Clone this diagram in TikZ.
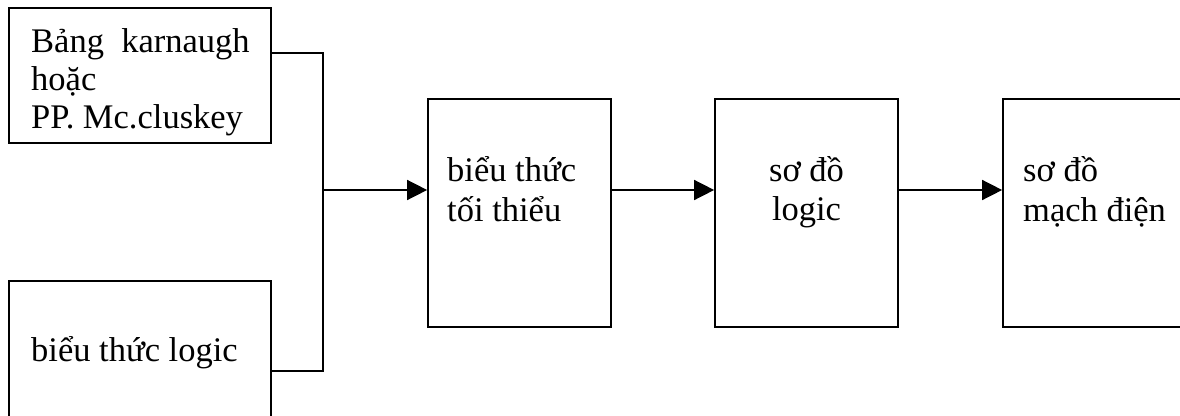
\documentclass[tikz,border=0pt]{standalone}
\usepackage{fontspec}
\setmainfont{Liberation Serif}
\usetikzlibrary{arrows.meta}
\begin{document}
\begin{tikzpicture}[x=1pt,y=-1pt,
  box/.style={draw,line width=1.7pt,inner sep=0pt},
  txt/.style={inner sep=0pt,font=\fontsize{34.5}{40}\selectfont},
  conn/.style={line width=1.5pt},
  arr/.style={line width=1.5pt,-{Triangle[length=20pt,width=20pt]}}]
\useasboundingbox (0,0) rectangle (1180,415);
\clip (0,0) rectangle (1180,415);
% boxes
\node[box,minimum width=262pt,minimum height=135pt] (b1) at (140,75.5) {};
\node[box,minimum width=262pt,minimum height=139pt] (b2) at (140,350.5) {};
\node[box,minimum width=183pt,minimum height=228pt] (b3) at (519.5,213) {};
\node[box,minimum width=183pt,minimum height=228pt] (b4) at (806.5,213) {};
\node[box,minimum width=195pt,minimum height=228pt] (b5) at (1100.5,213) {};
% texts
\node[txt,anchor=base west] (t1a) at (31,52) {Bảng\ \ karnaugh};
\node[txt,anchor=base west] (t1b) at (31,90) {hoặc};
\node[txt,anchor=base west] (t1c) at (31,128) {PP. Mc.cluskey};
\node[txt,anchor=base west] (t2) at (31,361) {biểu thức logic};
\node[txt,anchor=base west] (t3a) at (447,181) {biểu thức};
\node[txt,anchor=base west] (t3b) at (447,221) {tối thiểu};
\node[txt,anchor=base] (t4a) at (806.5,181) {sơ đồ};
\node[txt,anchor=base] (t4b) at (806.5,220) {logic};
\node[txt,anchor=base west] (t5a) at (1023,181) {sơ đồ};
\node[txt,anchor=base west] (t5b) at (1023,221) {mạch điện};
% connectors
\coordinate (j) at (323,190);
\draw[conn] ([yshift=22.5pt]b1.east) -| (j);
\draw[conn] (b2.east |- 0,371) -| (j);
\draw[arr] (j) -- ([yshift=23pt]b3.west);
\draw[arr] ([yshift=23pt]b3.east) -- ([yshift=23pt]b4.west);
\draw[arr] ([yshift=23pt]b4.east) -- (b5.west |- j);
\end{tikzpicture}
\end{document}
